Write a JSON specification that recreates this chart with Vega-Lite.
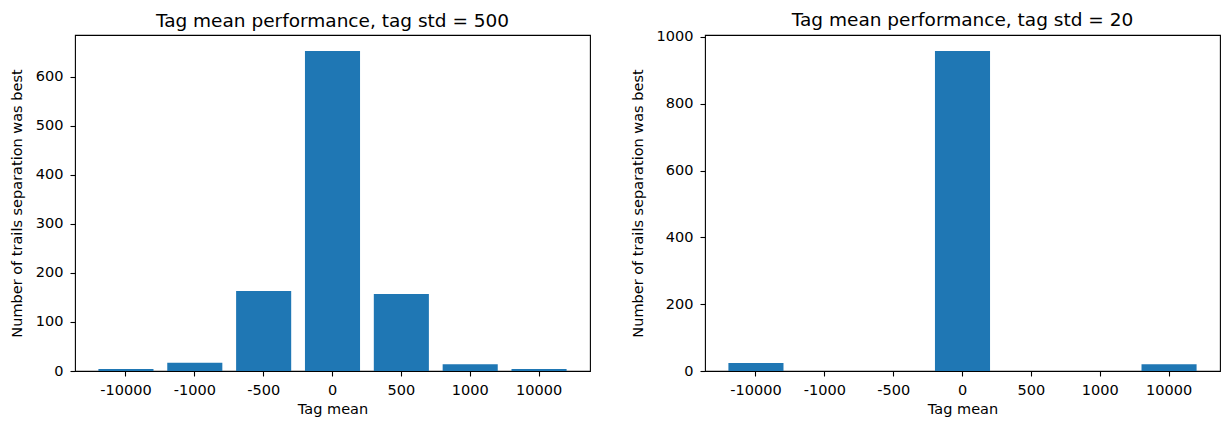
{
  "$schema": "https://vega.github.io/schema/vega-lite/v6.json",
  "padding": {"left": 8, "top": 10, "right": 0, "bottom": 0},
  "config": {
    "font": "DejaVu Sans",
    "view": {"stroke": "#000", "strokeWidth": 1.1},
    "axis": {
      "domain": false, "grid": false,
      "tickColor": "#000", "tickSize": 5, "tickWidth": 1.1,
      "labelColor": "#000", "labelFontSize": 14.5, "labelFont": "DejaVu Sans",
      "titleFont": "DejaVu Sans", "titleFontSize": 14.5, "titleFontWeight": "normal", "titleColor": "#000",
      "labelPadding": 7
    },
    "title": {"font": "DejaVu Sans", "fontSize": 18.5, "fontWeight": "normal", "color": "#000"},
    "concat": {"spacing": 38}
  },
  "datasets": {
    "std500": [
      {"tag_mean": "-10000", "count": 4},
      {"tag_mean": "-1000", "count": 17},
      {"tag_mean": "-500", "count": 163},
      {"tag_mean": "0", "count": 652},
      {"tag_mean": "500", "count": 157},
      {"tag_mean": "1000", "count": 14},
      {"tag_mean": "10000", "count": 4}
    ],
    "std20": [
      {"tag_mean": "-10000", "count": 24},
      {"tag_mean": "-1000", "count": 0},
      {"tag_mean": "-500", "count": 0},
      {"tag_mean": "0", "count": 958},
      {"tag_mean": "500", "count": 0},
      {"tag_mean": "1000", "count": 0},
      {"tag_mean": "10000", "count": 20}
    ]
  },
  "hconcat": [
    {
      "title": {"text": "Tag mean performance, tag std = 500", "offset": 5},
      "width": 515, "height": 336,
      "data": {"name": "std500"},
      "mark": {"type": "bar", "color": "#1f77b4"},
      "encoding": {
        "x": {"field": "tag_mean", "type": "nominal", "sort": ["-10000", "-1000", "-500", "0", "500", "1000", "10000"], "title": "Tag mean",
              "scale": {"paddingInner": 0.2, "paddingOuter": 0.34}, "axis": {"labelAngle": 0, "titlePadding": 6}},
        "y": {"field": "count", "type": "quantitative", "title": "Number of trails separation was best",
              "scale": {"domain": [0, 684.6], "nice": false}, "axis": {"values": [0, 100, 200, 300, 400, 500, 600], "format": "d", "titlePadding": 11}}
      }
    },
    {
      "title": {"text": "Tag mean performance, tag std = 20", "offset": -1},
      "width": 515, "height": 336,
      "data": {"name": "std20"},
      "mark": {"type": "bar", "color": "#1f77b4"},
      "encoding": {
        "x": {"field": "tag_mean", "type": "nominal", "sort": ["-10000", "-1000", "-500", "0", "500", "1000", "10000"], "title": "Tag mean",
              "scale": {"paddingInner": 0.2, "paddingOuter": 0.34}, "axis": {"labelAngle": 0, "titlePadding": 6}},
        "y": {"field": "count", "type": "quantitative", "title": "Number of trails separation was best",
              "scale": {"domain": [0, 1005.9], "nice": false}, "axis": {"values": [0, 200, 400, 600, 800, 1000], "format": "d", "titlePadding": 11}}
      }
    }
  ]
}
